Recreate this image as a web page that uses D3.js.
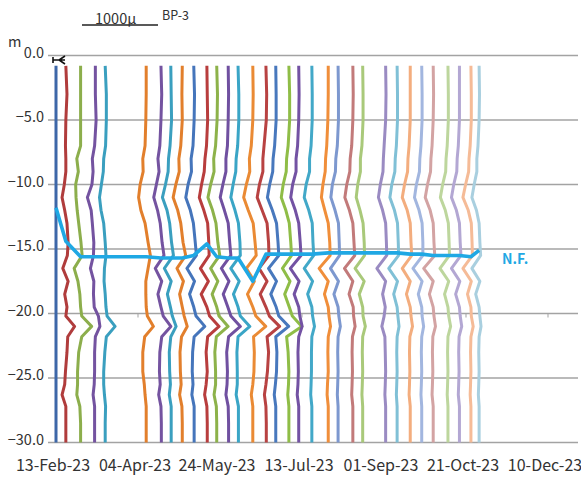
<!DOCTYPE html>
<html>
<head>
<meta charset="utf-8">
<script src="https://cdn.jsdelivr.net/npm/d3@7"></script>
<style>
  body { margin: 0; background: #fff; }
  text { font-family: "Noto Sans CJK JP", "Noto Sans", sans-serif; }
</style>
</head>
<body>
<svg id="chart" width="581" height="478"></svg>
<script>
// Inclinometer BP-3: cumulative displacement profiles (µ) by depth (m), one per survey date
const depths = [-0.8, -3, -5, -7, -8, -9, -10, -11, -12, -13, -14.5, -15.5, -16.5, -17.5, -18.5, -19.5, -20.2, -21, -21.8, -23, -24.5, -25.5, -26.3, -27.2, -28.5, -30];

const surveyDates = [
  "2023-02-13", "2023-02-19", "2023-02-28", "2023-03-09", "2023-03-15",
  "2023-04-09", "2023-04-18", "2023-04-24", "2023-05-01", "2023-05-08",
  "2023-05-16", "2023-05-22", "2023-05-29", "2023-06-04", "2023-06-13",
  "2023-06-21", "2023-06-27", "2023-07-05", "2023-07-11", "2023-07-19",
  "2023-07-29", "2023-08-04", "2023-08-13", "2023-08-19", "2023-09-02",
  "2023-09-09", "2023-09-17", "2023-09-24", "2023-10-01", "2023-10-10",
  "2023-10-17", "2023-10-24", "2023-10-29"
];

const profiles = [
  [0, 0, 0, 0, 0, 0, 0, 0, 0, 0, 0, 0, 0, 0, 0, 0, 0, 0, 0, 0, 0, 0, 0, 0, 0, 0],
  [0, 15, 0, -5, 0, 0, -20, -50, -15, 15, 30, 20, -40, 30, -15, 15, 0, 115, 25, 15, -5, -15, -50, 0, 0, 0],
  [0, 0, 0, 0, -50, -30, -65, -60, -45, -25, 5, 20, -85, -35, -10, 0, 15, 145, 15, -25, -40, -40, -50, -10, 0, 0],
  [0, 0, 10, -10, -40, -30, -45, -105, -55, -40, -20, -25, -65, -20, -25, -15, 40, 60, 0, -10, -10, -15, -30, -10, -10, -10],
  [0, 15, 15, 5, -20, -25, -50, -75, -55, -20, 0, 10, -10, -15, 0, 10, 25, 130, 15, -5, -20, -20, -10, 5, 0, 0],
  [0, 0, -5, -15, -45, -40, -80, -100, -70, -15, 25, 55, 25, -5, -5, 0, 15, 95, -20, -45, -45, -25, -15, 0, 0, 0],
  [0, 10, 0, -15, -40, -25, -60, -95, -45, -10, 15, 40, -75, 10, -40, 0, 30, 130, 10, -15, -20, -10, -30, 0, 5, 5],
  [0, 5, 10, -10, -30, -35, -70, -110, -50, -15, 10, 35, -85, 5, -45, -5, 20, 70, 0, -20, -15, -5, -20, 5, 5, 5],
  [0, -5, 0, -20, -45, -40, -85, -120, -60, -20, 10, 45, -70, 15, -35, 0, 25, 65, -10, -30, -25, -15, -35, -5, 0, 0],
  [0, 10, 5, -10, -35, -30, -75, -105, -45, -5, 20, 35, -90, 10, -55, 0, 30, 145, 5, -15, -20, -10, -25, 5, 5, 5],
  [0, 5, 10, -5, -25, -35, -70, -100, -40, 10, 25, 30, -85, 20, -75, 0, 35, 160, 10, -10, 5, -10, -30, 0, 5, 5],
  [0, 10, 5, -15, -40, -35, -80, -115, -55, -10, 15, 40, -80, 15, -60, 0, 30, 150, -5, -25, -15, -15, -35, -5, 0, 0],
  [0, 5, 0, -10, -30, -30, -70, -105, -50, 0, 20, 35, -90, 10, -65, -5, 35, 160, 5, -20, -10, -15, -30, 0, 5, 5],
  [0, 10, 10, -5, -25, -30, -65, -95, -40, 5, 25, 30, -95, 15, -60, 0, 30, 155, 0, -15, -10, -10, -25, 5, 5, 5],
  [0, 5, 0, -20, -45, -40, -85, -120, -60, 5, 30, 45, -85, 20, -70, 0, 40, 170, 10, 20, 15, 0, -20, 0, 0, 0],
  [0, 10, 5, -25, -40, -40, -85, -115, -50, 15, 35, 40, -90, 15, -75, 0, 45, 180, 15, 35, 20, 0, -20, 0, 5, 5],
  [0, 5, 5, -15, -35, -40, -80, -110, -45, 10, 30, 40, -95, 10, -65, 5, 40, 170, 0, 15, 10, -5, -20, 0, 0, 0],
  [0, 10, 10, -10, -30, -35, -75, -100, -40, 5, 25, 35, -85, 15, -55, 5, 45, 170, -30, -10, 0, -5, -15, 0, 0, 0],
  [0, 5, 0, -15, -35, -35, -80, -105, -45, 0, 20, 30, -110, 5, -60, 0, 15, 45, 0, -10, -5, -10, -20, 0, 0, 0],
  [0, 5, 5, -10, -30, -30, -75, -100, -40, 5, 15, 25, -100, 10, -55, 0, 10, 35, 0, -5, -5, -10, -15, 0, 0, 0],
  [0, 0, -5, -20, -35, -40, -70, -90, -45, 0, 20, 25, -120, 0, -50, 0, 10, 30, 0, -5, 0, -10, -15, 0, 0, 0],
  [0, 5, 5, -10, -30, -35, -75, -95, -40, 5, 15, 20, -100, 5, -55, 0, 10, 30, 0, -5, 0, -5, -10, 0, 0, 0],
  [0, 5, 0, -15, -35, -40, -80, -105, -45, 0, 15, 25, -110, 0, -50, 5, 10, 30, -5, -10, -5, -10, -15, 0, 0, 0],
  [0, 5, 5, -10, -30, -30, -65, -85, -35, 5, 20, 25, -100, 20, -45, 0, 5, 35, 0, -5, 0, -5, -10, 0, 0, 0],
  [0, 5, 0, -20, -30, -35, -70, -95, -40, 0, 10, 15, -115, 0, -40, -5, -20, -50, -10, -5, 0, -5, -10, 0, 0, 0],
  [0, 5, 5, -10, -25, -30, -70, -95, -35, 5, 15, 20, -110, 5, -45, 0, 10, 25, 0, -5, 0, -5, -10, 0, 0, 0],
  [0, 0, 0, -15, -30, -35, -75, -105, -40, 0, 10, 20, -105, 0, -50, 0, 10, 30, -5, -10, -5, -10, -15, 0, 0, 0],
  [0, 5, 5, -10, -25, -30, -70, -95, -35, 5, 15, 15, -115, 5, -45, 0, 5, 25, 0, -5, 0, -5, -10, 0, 0, 0],
  [0, 5, 0, -15, -30, -35, -75, -105, -40, 0, 10, 20, -125, 0, -50, 0, 10, 30, -5, -10, -5, -10, -15, 0, 0, 0],
  [0, 5, 5, -10, -25, -30, -70, -100, -35, 5, 15, 20, -105, 10, -45, 0, 10, 35, 0, -5, 0, -5, -10, 0, 0, 0],
  [0, 0, 0, -15, -30, -35, -75, -105, -40, 0, 10, 20, -105, 5, -50, 0, 10, 30, -5, -10, -5, -10, -15, 0, 0, 0],
  [0, 5, 5, -10, -25, -30, -70, -105, -35, 5, 15, 20, -105, 5, -45, 0, 5, 30, 0, -5, 0, -5, -10, 0, 0, 0],
  [0, 5, 0, -15, -30, -30, -65, -95, -35, 0, 10, 20, -95, 10, -45, 0, 10, 25, 0, -5, 0, -5, -10, 0, 0, 0]
];

// Groundwater level (N.F.) by date, depth in m
const nfDates = [
  "2023-02-13", "2023-02-19", "2023-02-28", "2023-03-09", "2023-03-15",
  "2023-04-09", "2023-04-18", "2023-04-24", "2023-05-01", "2023-05-08",
  "2023-05-16", "2023-05-22", "2023-05-29", "2023-06-04", "2023-06-13",
  "2023-06-21", "2023-06-27", "2023-07-05", "2023-07-11", "2023-07-19",
  "2023-07-29", "2023-08-04", "2023-08-13", "2023-08-19", "2023-09-02",
  "2023-09-09", "2023-09-17", "2023-09-24", "2023-10-01", "2023-10-10",
  "2023-10-17", "2023-10-24", "2023-10-29"
];
const nfDepths = [
  -11.8, -14.4, -15.6, -15.6, -15.6, -15.6, -15.7, -15.7, -15.7, -15.5,
  -14.6, -15.6, -15.7, -15.7, -17.5, -15.4, -15.4, -15.4, -15.4, -15.4,
  -15.3, -15.3, -15.3, -15.3, -15.3, -15.3, -15.4, -15.4, -15.5, -15.5,
  -15.5, -15.6, -15.1
];

const xTickDates = ["2023-02-13", "2023-04-04", "2023-05-24", "2023-07-13", "2023-09-01", "2023-10-21", "2023-12-10"];
const yTicks = [0, -5, -10, -15, -20, -25, -30];
const scaleBarValue = 1000;

// Line colours, one per survey
const palette = [
  "#3d67a8", "#b03c3c", "#8cae4c", "#7453a0", "#3a9fbf",
  "#e27f2c", "#7453a0", "#3a9fbf", "#e27f2c", "#4575bb",
  "#b83d3d", "#8db24a", "#7050a0", "#3aa5c6", "#ea8a34",
  "#b84242", "#4878bd", "#8fbd47", "#7352a3", "#42a8c8",
  "#f08e3a", "#7d98cf", "#c27a7a", "#a9c97a", "#9a8bc2",
  "#80c0d6", "#f3ad7e", "#a2b6df", "#d3a3a3", "#bdd69d",
  "#b3a7d3", "#f5bb97", "#a9cfdf"
];

const parse = d3.utcParse("%Y-%m-%d");
const fmt = d3.utcFormat("%d-%b-%y");

const svg = d3.select("#chart");
const plotLeft = 48, plotRight = 578, plotTop = 55.5, plotBottom = 442.5;

const x = d3.scaleUtc()
  .domain([parse(xTickDates[0]), parse(xTickDates[xTickDates.length - 1])])
  .range([56, 548]);
const y = d3.scaleLinear().domain([0, -30]).range([plotTop, plotBottom]);
const disp = d3.scaleLinear().domain([0, 1000]).range([0, 76]);

// horizontal gridlines
svg.append("g").selectAll("line").data(yTicks).join("line")
  .attr("x1", plotLeft).attr("x2", plotRight)
  .attr("y1", d => y(d)).attr("y2", d => y(d))
  .attr("stroke", "#a3a3a3").attr("stroke-width", 1.3);

// small ticks on the -20 m line
svg.append("g").selectAll("line").data(xTickDates.slice(1)).join("line")
  .attr("x1", d => x(parse(d))).attr("x2", d => x(parse(d)))
  .attr("y1", y(-20)).attr("y2", y(-20) + 4)
  .attr("stroke", "#a3a3a3").attr("stroke-width", 1);

// y labels
svg.append("g").selectAll("text").data(yTicks).join("text")
  .attr("x", 44).attr("y", d => y(d) - 1.5)
  .attr("text-anchor", "end").attr("dominant-baseline", "middle")
  .attr("font-size", 14.5).attr("fill", "#333")
  .text(d => d3.format(".1f")(d));

svg.append("text").attr("x", 8).attr("y", 47).attr("font-size", 14.5).attr("fill", "#333").text("m");

// x labels
svg.append("g").selectAll("text").data(xTickDates).join("text")
  .attr("x", d => x(parse(d)) - 3).attr("y", 467)
  .attr("text-anchor", "middle").attr("dominant-baseline", "middle")
  .attr("font-size", 16).attr("fill", "#333")
  .text(d => fmt(parse(d)));

// displacement profiles
const line = d3.line().curve(d3.curveLinear);
svg.append("g").selectAll("path").data(profiles).join("path")
  .attr("d", (vals, i) => {
    const x0 = x(parse(surveyDates[i]));
    return line(vals.map((v, k) => [x0 + disp(v), y(depths[k])]));
  })
  .attr("fill", "none")
  .attr("stroke", (d, i) => palette[i])
  .attr("stroke-width", 3)
  .attr("stroke-linejoin", "round");

// groundwater level
const nfLine = d3.line().x((d, i) => x(parse(nfDates[i]))).y(d => y(d));
svg.append("path").attr("d", nfLine(nfDepths))
  .attr("fill", "none").attr("stroke", "#1fa8e4").attr("stroke-width", 3.6)
  .attr("stroke-linejoin", "round");
svg.append("text").attr("x", 502).attr("y", y(-15.9))
  .attr("dominant-baseline", "middle")
  .attr("font-size", 14).attr("font-weight", "bold").attr("fill", "#1fa8e4")
  .text("N.F.");

// top-of-casing marker
const mx = x(parse(surveyDates[0])), my = y(-0.35);
svg.append("path")
  .attr("d", `M${mx - 3},${my - 3}V${my + 3}M${mx - 3},${my}H${mx + 9}M${mx + 9},${my - 4}L${mx + 3},${my}L${mx + 9},${my + 4}`)
  .attr("fill", "none").attr("stroke", "#111").attr("stroke-width", 1.6);

// scale bar
const sb0 = 82;
svg.append("line").attr("x1", sb0).attr("x2", sb0 + disp(scaleBarValue))
  .attr("y1", 25).attr("y2", 25).attr("stroke", "#222").attr("stroke-width", 1.3);
svg.append("text").attr("x", 95).attr("y", 24).attr("font-size", 14.5).attr("fill", "#333").text(scaleBarValue + "µ");
svg.append("text").attr("x", 162).attr("y", 20).attr("font-size", 12.5).attr("fill", "#333").text("BP-3");
</script>
</body>
</html>
